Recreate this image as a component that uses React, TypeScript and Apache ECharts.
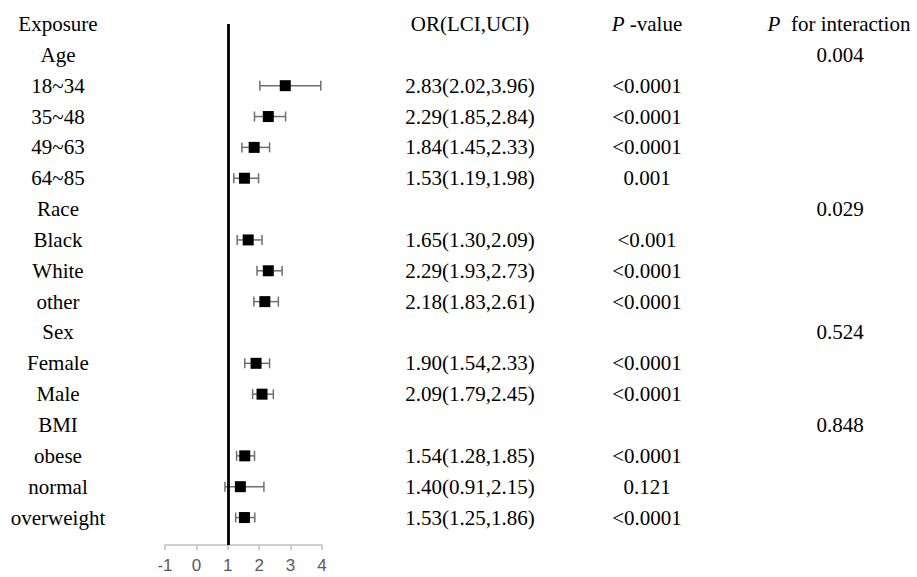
import React, { useEffect, useRef } from "react";
import * as echarts from "echarts";

const categories = [
  "Exposure", "Age", "18~34", "35~48", "49~63", "64~85",
  "Race", "Black", "White", "other",
  "Sex", "Female", "Male",
  "BMI", "obese", "normal", "overweight",
];
const orValues = [null, null, 2.83, 2.29, 1.84, 1.53, null, 1.65, 2.29, 2.18, null, 1.90, 2.09, null, 1.54, 1.40, 1.53];
const lciValues = [null, null, 2.02, 1.85, 1.45, 1.19, null, 1.30, 1.93, 1.83, null, 1.54, 1.79, null, 1.28, 0.91, 1.25];
const uciValues = [null, null, 3.96, 2.84, 2.33, 1.98, null, 2.09, 2.73, 2.61, null, 2.33, 2.45, null, 1.85, 2.15, 1.86];
const pValues = ["", "", "<0.0001", "<0.0001", "<0.0001", "0.001", "", "<0.001", "<0.0001", "<0.0001", "", "<0.0001", "<0.0001", "", "<0.0001", "0.121", "<0.0001"];
const pInteraction = ["", "0.004", "", "", "", "", "0.029", "", "", "", "0.524", "", "", "0.848", "", "", ""];
const headerOR = "OR(LCI,UCI)";
const headerP = "{i|P} -value";
const headerPInt = "{i|P}  for interaction";
const xTicks = [-1, 0, 1, 2, 3, 4];

const SERIF = '"Liberation Serif", "Times New Roman", serif';
const FS = 21;

export default function App() {
  const ref = useRef<HTMLDivElement>(null);
  useEffect(() => {
    document.body.style.margin = "0";
    const chart = echarts.init(ref.current!, null, { renderer: "svg" });
    const textData = categories.map((_, i) => [1, i]);
    const barData: number[][] = [];
    categories.forEach((_, i) => {
      if (orValues[i] != null) barData.push([i, lciValues[i] as number, uciValues[i] as number, orValues[i] as number]);
    });
    const mk = (text: string, x: number, y: number) => ({
      type: "text",
      x,
      y,
      style: {
        text,
        fontFamily: SERIF,
        fontSize: FS,
        fill: "#000",
        align: "center",
        verticalAlign: "middle",
        rich: { i: { fontStyle: "italic", fontFamily: SERIF, fontSize: FS, fill: "#000" } },
      },
    });
    chart.setOption({
      animation: false,
      grid: { left: 165, width: 157, top: 24, height: 521 },
      xAxis: {
        type: "value",
        position: "bottom",
        min: xTicks[0],
        max: xTicks[xTicks.length - 1],
        interval: 1,
        splitLine: { show: false },
        axisLine: { show: true, onZero: false, lineStyle: { color: "#bfbfbf", width: 1.5 } },
        axisTick: { show: true, length: 5, lineStyle: { color: "#bfbfbf", width: 1.5 } },
        axisLabel: { color: "#595959", fontSize: 17, fontFamily: '"Liberation Sans", Arial, sans-serif', margin: 12 },
      },
      yAxis: { type: "value", min: 0, max: 16.89, inverse: true, show: false },
      series: [
        {
          type: "scatter",
          data: [],
          markLine: {
            silent: true,
            symbol: "none",
            label: { show: false },
            lineStyle: { color: "#000", width: 2.8, type: "solid" },
            data: [{ xAxis: 1 }],
          },
        },
        {
          type: "custom",
          clip: false,
          data: barData,
          encode: { x: [1, 2, 3], y: 0 },
          renderItem: (params: any, api: any) => {
            const i = api.value(0);
            const p1 = api.coord([api.value(1), i]);
            const p2 = api.coord([api.value(2), i]);
            const pc = api.coord([api.value(3), i]);
            const cap = 5;
            const ls = { stroke: "#6f6f6f", lineWidth: 1.5 };
            const s = 11;
            return {
              type: "group",
              children: [
                { type: "line", shape: { x1: p1[0], y1: p1[1], x2: p2[0], y2: p2[1] }, style: ls },
                { type: "line", shape: { x1: p1[0], y1: p1[1] - cap, x2: p1[0], y2: p1[1] + cap }, style: ls },
                { type: "line", shape: { x1: p2[0], y1: p2[1] - cap, x2: p2[0], y2: p2[1] + cap }, style: ls },
                { type: "rect", shape: { x: pc[0] - s / 2, y: pc[1] - s / 2, width: s, height: s }, style: { fill: "#000" } },
              ],
            };
          },
        },
        {
          type: "custom",
          clip: false,
          data: textData,
          encode: { x: 0, y: 1 },
          renderItem: (params: any, api: any) => {
            const i = params.dataIndex;
            const y = api.coord([1, i])[1];
            const children: any[] = [mk(categories[i], 58, y)];
            if (i === 0) {
              children.push(mk(headerOR, 470, y));
              children.push(mk(headerP, 647, y));
              children.push(mk(headerPInt, 839, y));
            } else {
              if (orValues[i] != null) {
                children.push(
                  mk(`${(orValues[i] as number).toFixed(2)}(${(lciValues[i] as number).toFixed(2)},${(uciValues[i] as number).toFixed(2)})`, 470, y)
                );
              }
              if (pValues[i]) children.push(mk(pValues[i], 647, y));
              if (pInteraction[i]) children.push(mk(pInteraction[i], 840, y));
            }
            return { type: "group", children };
          },
        },
      ],
    });
    return () => chart.dispose();
  }, []);
  return <div ref={ref} style={{ width: 917, height: 577 }} />;
}
